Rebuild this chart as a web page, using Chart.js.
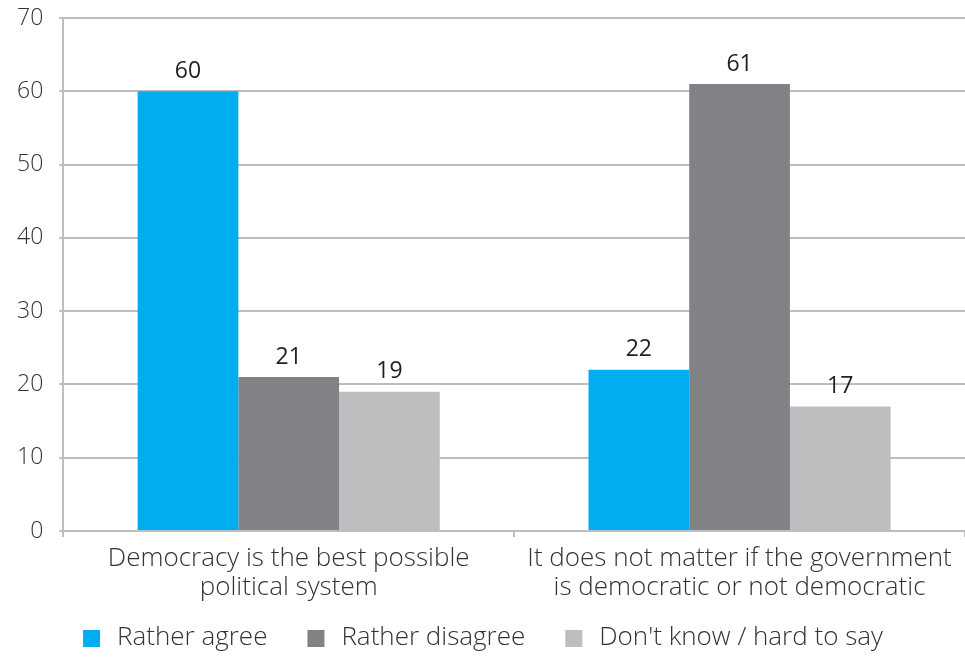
<!DOCTYPE html>
<html>
<head>
<meta charset="utf-8">
<script src="https://cdn.jsdelivr.net/npm/chart.js@4"></script>
<style>
  html, body { margin: 0; padding: 0; background: #fff; }
  #wrap { width: 965px; height: 657px; }
</style>
</head>
<body>
<div id="wrap"><canvas id="chart" width="965" height="657"></canvas></div>
<script>
// Dane wykresu
const kategorie = [
    ['Democracy is the best possible', 'political system'],
    ['It does not matter if the government', 'is democratic or not democratic']
];
const serie = ['Rather agree', 'Rather disagree', "Don't know / hard to say"];
const ratherAgree = [60, 22];
const ratherDisagree = [21, 61];
const dontKnow = [19, 17];
const yTicks = [0, 10, 20, 30, 40, 50, 60, 70];

const kolory = ['#00AEEF', '#808285', '#BCBEC0'];
const FONT = "'Open Sans', sans-serif";

// Kwadraty legendy z odstępem przed nimi (odstęp między pozycjami legendy)
const ODSTEP = 24;
function kwadrat(kolor) {
    const c = document.createElement('canvas');
    c.width = ODSTEP + 21;
    c.height = 17;
    const g = c.getContext('2d');
    g.fillStyle = kolor;
    g.fillRect(ODSTEP, 0, 17, 17);
    return c;
}

// Etykiety wartości nad słupkami
const etykietyPlugin = {
    id: 'etykiety',
    afterLayout(chart) {
        // wyrównanie legendy (pusty odstęp przed pierwszym kwadratem)
        chart.legend.left -= ODSTEP / 2;
        chart.legend.right -= ODSTEP / 2;
    },
    afterDatasetsDraw(chart) {
        const ctx = chart.ctx;
        ctx.save();
        ctx.font = '400 23px ' + FONT;
        ctx.fillStyle = '#231F20';
        ctx.textAlign = 'center';
        ctx.textBaseline = 'middle';
        chart.data.datasets.forEach((ds, i) => {
            chart.getDatasetMeta(i).data.forEach((bar, j) => {
                ctx.fillText(ds.data[j], bar.x, bar.y - 20);
            });
        });
        ctx.restore();
    }
};

const ctx = document.getElementById('chart').getContext('2d');
new Chart(ctx, {
    type: 'bar',
    data: {
        labels: kategorie,
        datasets: [
            { label: serie[0], data: ratherAgree, backgroundColor: kolory[0] },
            { label: serie[1], data: ratherDisagree, backgroundColor: kolory[1] },
            { label: serie[2], data: dontKnow, backgroundColor: kolory[2] }
        ]
    },
    options: {
        responsive: false,
        animation: false,
        devicePixelRatio: 1,
        categoryPercentage: 0.67,
        barPercentage: 1.0,
        layout: { padding: { top: 0, right: 0, left: 1, bottom: -4 } },
        plugins: {
            legend: {
                position: 'bottom',
                labels: {
                    usePointStyle: true,
                    pointStyleWidth: ODSTEP + 21,
                    boxHeight: 17,
                    padding: 16,
                    color: '#333',
                    font: { family: FONT, size: 26, weight: 300 },
                    generateLabels(chart) {
                        return chart.data.datasets.map((ds, i) => ({
                            text: ds.label,
                            fillStyle: ds.backgroundColor,
                            strokeStyle: ds.backgroundColor,
                            lineWidth: 0,
                            pointStyle: kwadrat(ds.backgroundColor),
                            fontColor: '#333',
                            hidden: false,
                            datasetIndex: i
                        }));
                    }
                }
            },
            tooltip: { enabled: false }
        },
        scales: {
            x: {
                grid: {
                    offset: true,
                    drawOnChartArea: false,
                    drawTicks: true,
                    tickLength: 6,
                    color: '#BCBEC0',
                    lineWidth: 2
                },
                border: { color: '#BCBEC0', width: 2 },
                ticks: {
                    color: '#333',
                    padding: 7,
                    font: { family: FONT, size: 26, weight: 300, lineHeight: 1.115 }
                }
            },
            y: {
                min: 0,
                max: 70,
                afterBuildTicks(axis) {
                    axis.ticks = yTicks.map(v => ({ value: v }));
                },
                afterFit(axis) {
                    axis.paddingTop = 18;
                },
                grid: {
                    color: '#BCBEC0',
                    lineWidth: 2,
                    tickLength: 4
                },
                border: { color: '#BCBEC0', width: 2 },
                ticks: {
                    color: '#333',
                    padding: 16,
                    font: { family: FONT, size: 23, weight: 300 }
                }
            }
        }
    },
    plugins: [etykietyPlugin]
});
</script>
</body>
</html>
